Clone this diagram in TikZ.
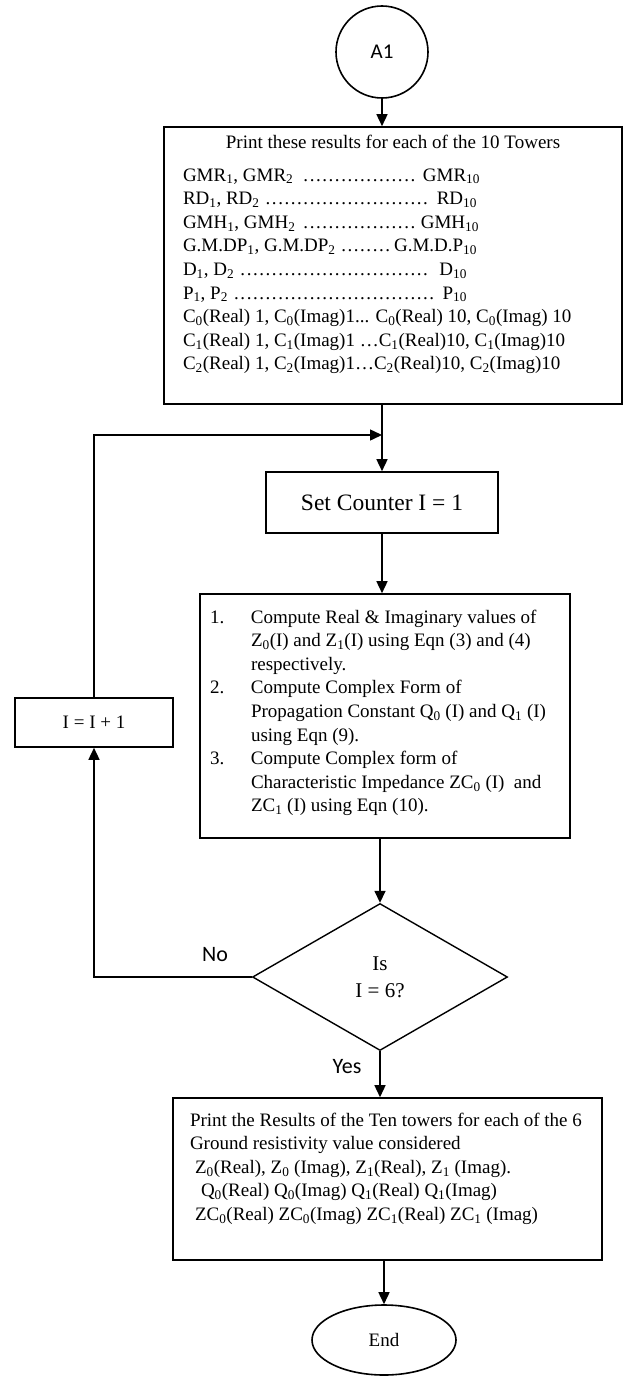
\documentclass[tikz,border=0pt]{standalone}
\usepackage{fontspec}
\setmainfont{Liberation Serif}
\newfontfamily\calfont{Carlito}
\usepackage{tikz}
\usetikzlibrary{arrows.meta, positioning, shapes.geometric}
\newcommand{\sbs}[1]{\textsubscript{#1}}
\newcommand{\dotrun}{\leaders\hbox to 6.3pt{\hss.\hss}\hfill}
\newcommand{\dotrow}[2]{\makebox[#1][s]{#2}}
\newcommand{\bodyfont}{\fontsize{19}{23.6}\selectfont}

\begin{document}
\begin{tikzpicture}[x=1pt, y=-1pt,
    every node/.style={font=\bodyfont, inner sep=0pt},
    box/.style={draw, line width=1.6pt, rectangle},
    term/.style={draw, line width=1.6pt},
    decision/.style={draw, diamond, line width=1.4pt, align=center,
        font=\fontsize{21}{27}\selectfont},
    flowlabel/.style={font=\calfont\fontsize{22}{26}\selectfont},
    arr/.style={-{Triangle[length=12pt, width=11pt]}, line width=1.5pt},
]

\useasboundingbox (0,0) rectangle (624,1378);

% =============================================
% START CONNECTOR
% =============================================
\node[term, circle, minimum size=92pt, font=\calfont\fontsize{21}{25}\selectfont]
    (a1) at (382, 52) {A1};

% =============================================
% TOWER RESULTS
% =============================================
\node[box, inner xsep=19pt, inner ysep=0pt] (results) at (393, 265.5)
    {\parbox[c][277pt][t]{420pt}{%
    \centering\rule{0pt}{21pt}Print these results for each of the 10 Towers\par
    \vspace{9.4pt}\raggedright
    \dotrow{297pt}{GMR\sbs{1}, GMR\sbs{2} \dotrun\ GMR\sbs{10}}\\
    \dotrow{294pt}{RD\sbs{1}, RD\sbs{2} \dotrun\ RD\sbs{10}}\\
    \dotrow{296pt}{GMH\sbs{1}, GMH\sbs{2} \dotrun\ GMH\sbs{10}}\\
    \dotrow{294pt}{G.M.DP\sbs{1}, G.M.DP\sbs{2} \dotrun G.M.D.P\sbs{10}}\\
    \dotrow{284pt}{D\sbs{1}, D\sbs{2} \dotrun\ D\sbs{10}}\\
    \dotrow{284pt}{P\sbs{1}, P\sbs{2} \dotrun\ P\sbs{10}}\\
    C\sbs{0}(Real) 1, C\sbs{0}(Imag)1... C\sbs{0}(Real) 10, C\sbs{0}(Imag) 10\\
    C\sbs{1}(Real) 1, C\sbs{1}(Imag)1 \ldots C\sbs{1}(Real)10, C\sbs{1}(Imag)10\\
    C\sbs{2}(Real) 1, C\sbs{2}(Imag)1\ldots C\sbs{2}(Real)10, C\sbs{2}(Imag)10}};

% =============================================
% LOOP
% =============================================
\coordinate (merge) at (382, 435);

\node[box, minimum width=232pt, minimum height=61pt, font=\fontsize{23.5}{28}\selectfont]
    (counter) at (382, 502.5) {Set Counter I = 1};

\node[box, inner xsep=10pt, inner ysep=0pt] (compute) at (385, 716)
    {\parbox[c][244pt][t]{350pt}{\raggedright
    \rule{0pt}{29pt}\makebox[41pt][l]{1.}Compute Real \& Imaginary values of\\
    \hspace*{41pt}Z\sbs{0}(I) and Z\sbs{1}(I) using Eqn (3) and (4)\\
    \hspace*{41pt}respectively.\\
    \makebox[41pt][l]{2.}Compute Complex Form of\\
    \hspace*{41pt}Propagation Constant Q\sbs{0} (I) and Q\sbs{1} (I)\\
    \hspace*{41pt}using Eqn (9).\\
    \makebox[41pt][l]{3.}Compute Complex form of\\
    \hspace*{41pt}Characteristic Impedance ZC\sbs{0} (I) \ and\\
    \hspace*{41pt}ZC\sbs{1} (I) using Eqn (10).}};

\node[box, minimum width=158pt, minimum height=49pt] (incr) at (94, 722.5) {I = I + 1};

\node[decision, minimum width=255pt, minimum height=147pt] (check) at (380, 977)
    {Is\\I = 6?};

\node[flowlabel] (nolbl) at (215, 955) {No};
\node[flowlabel] (yeslbl) at (347, 1067) {Yes};

% =============================================
% FINAL OUTPUT
% =============================================
\node[box, inner xsep=17pt, inner ysep=0pt] (output) at (387.5, 1179)
    {\parbox[c][162pt][t]{395pt}{\raggedright
    \rule{0pt}{28pt}Print the Results of the Ten towers for each of the 6\\
    Ground resistivity value considered\\
    \hspace*{5pt}Z\sbs{0}(Real), Z\sbs{0} (Imag), Z\sbs{1}(Real), Z\sbs{1} (Imag).\\
    \hspace*{11pt}Q\sbs{0}(Real) Q\sbs{0}(Imag) Q\sbs{1}(Real) Q\sbs{1}(Imag)\\
    \hspace*{5pt}ZC\sbs{0}(Real) ZC\sbs{0}(Imag) ZC\sbs{1}(Real) ZC\sbs{1} (Imag)}};

\node[term, ellipse, minimum width=144pt, minimum height=70pt] (finish) at (384, 1340) {End};

% =============================================
% CONNECTORS
% =============================================
\draw[arr] (a1) -- (a1 |- results.north);
\draw[arr] (counter.north |- results.south) -- (counter.north);
\draw[arr] (counter.south) -- (counter.south |- compute.north);
\draw[arr] (compute.south -| check.north) -- (check.north);
\draw[arr] (check.south) -- (check.south |- output.north);
\draw[arr] (output.south -| finish.north) -- (finish.north);

% No branch back round to the counter
\draw[arr] (check.west) -- (incr.south |- check.west) -- (incr.south);
\draw[arr] (incr.north) -- (incr.north |- merge) -- (merge);

\end{tikzpicture}
\end{document}
